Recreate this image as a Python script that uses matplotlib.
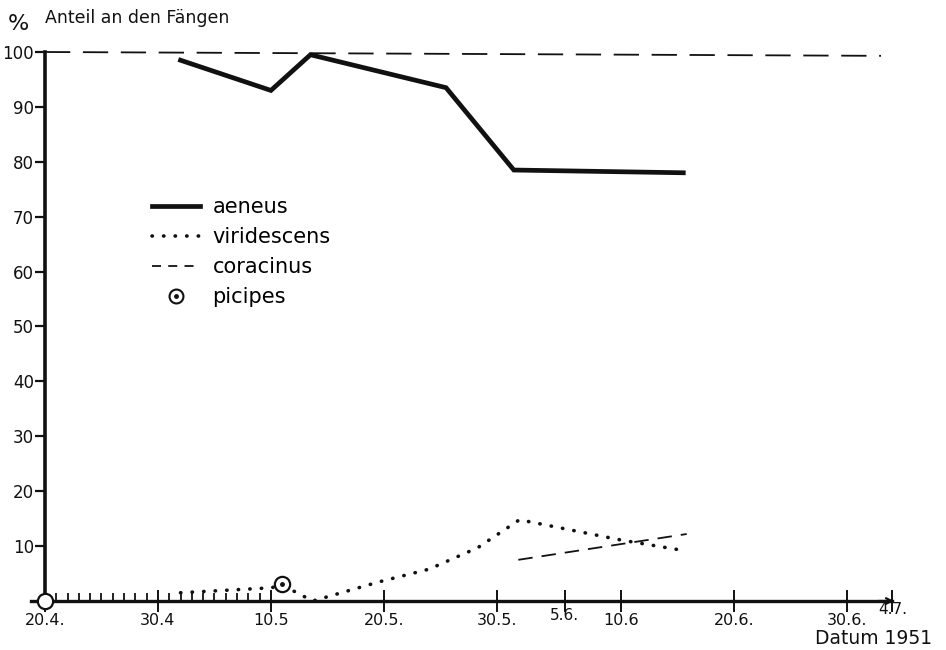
import matplotlib
matplotlib.use("Agg")
import matplotlib.pyplot as plt
from matplotlib.lines import Line2D

# days counted from 20.4.1951
tick_days = [0, 10, 20, 30, 40, 46, 51, 61, 71, 75]
tick_labels = ["20.4.", "30.4", "10.5", "20.5.", "30.5.", "5.6.", "10.6", "20.6.", "30.6.", "4.7."]
minor_days = list(range(1, 20))

aeneus_day = [12, 20, 23.5, 35.5, 41.5, 56.5]
aeneus_pct = [98.5, 93, 99.5, 93.5, 78.5, 78]

viridescens_day = [12, 20, 21, 23.7, 29.6, 34, 38.3, 42, 51, 56.8]
viridescens_pct = [1.5, 2.4, 2.9, 0, 3.5, 5.8, 9.7, 14.8, 11.1, 9.1]

coracinus_top_day = [0, 74]
coracinus_top_pct = [100, 99.3]
coracinus_day = [41.9, 56.8]
coracinus_pct = [7.5, 12.2]

picipes_day = [0, 21]
picipes_pct = [0, 3.1]

yticks = [10, 20, 30, 40, 50, 60, 70, 80, 90, 100]

fig = plt.figure(figsize=(9.46, 6.5), dpi=100)
ax = fig.add_axes([0.0332, 0.0754, 0.916, 0.8615])
ax.set_xlim(-1.2, 75.5)
ax.set_ylim(0, 102)

ink = "#111111"
dots = (0, (0.1, 3.1))

ax.plot(aeneus_day, aeneus_pct, color=ink, lw=3.4, solid_joinstyle="miter", label="aeneus")
ax.plot(viridescens_day, viridescens_pct, color=ink, lw=2.6, linestyle=dots,
        dash_capstyle="round", label="viridescens")
ax.plot(coracinus_top_day, coracinus_top_pct, color=ink, lw=1.3, linestyle=(0, (14, 7)),
        label="coracinus")
ax.plot(coracinus_day, coracinus_pct, color=ink, lw=1.3, linestyle=(0, (8, 5)))
ax.plot(picipes_day, picipes_pct, linestyle="none", marker="o", ms=11, mfc="white",
        mec=ink, mew=1.6, clip_on=False, zorder=5)
ax.plot(picipes_day[1:], picipes_pct[1:], linestyle="none", marker="o", ms=2.5,
        color=ink, zorder=6)

# axes drawn as plain lines
for s in ["top", "right"]:
    ax.spines[s].set_visible(False)
ax.spines["left"].set_position(("data", 0))
ax.spines["left"].set_bounds(0, 100)
ax.spines["left"].set_linewidth(2.6)
ax.spines["bottom"].set_bounds(-1.2, 75)
ax.spines["bottom"].set_linewidth(2.4)
ax.spines["left"].set_color(ink)
ax.spines["bottom"].set_color(ink)
ax.annotate("", xy=(75.4, 0), xytext=(73.5, 0),
            arrowprops=dict(arrowstyle="->", color=ink, lw=1.6), annotation_clip=False)

ax.set_yticks(yticks)
ax.set_yticklabels([str(v) for v in yticks])
ax.tick_params(axis="y", direction="out", length=7, width=1.6, pad=1, labelsize=12, colors=ink)

ax.set_xticks(tick_days)
ax.set_xticklabels(tick_labels)
ax.set_xticks(minor_days, minor=True)
ax.tick_params(axis="x", which="major", direction="inout", length=16, width=1.4,
               pad=1, labelsize=11.5, colors=ink)
ax.tick_params(axis="x", which="minor", direction="in", length=6, width=1.3, colors=ink)
for i, t in enumerate(ax.xaxis.get_major_ticks()):
    if tick_labels[i] == "5.6.":
        t.set_pad(-3)
        t.label1.set_fontsize(11)
    elif tick_labels[i] == "4.7.":
        t.set_pad(-7)
        t.label1.set_fontsize(11)

fig.text(18 / 946, 1 - 24 / 650, "%", fontsize=16, ha="center", va="center", color=ink)
fig.text(45 / 946, 1 - 18 / 650, "Anteil an den Fängen", fontsize=12.5, ha="left",
         va="center", color=ink)
fig.text(932 / 946, 1 - 638 / 650, "Datum 1951", fontsize=13.5, ha="right", va="center",
         color=ink)

handles = [
    Line2D([], [], color=ink, lw=3.4),
    Line2D([], [], color=ink, lw=2.6, linestyle=dots, dash_capstyle="round"),
    Line2D([], [], color=ink, lw=1.3, linestyle=(0, (5, 4))),
    (Line2D([], [], linestyle="none", marker="o", ms=10, mfc="white", mec=ink, mew=1.5),
     Line2D([], [], linestyle="none", marker="o", ms=2.5, color=ink)),
]
ax.legend(handles, ["aeneus", "viridescens", "coracinus", "picipes"],
          loc="upper left", bbox_to_anchor=(152 / 946, 1 - 197 / 650),
          bbox_transform=fig.transFigure, frameon=False, fontsize=15,
          handlelength=2.3, handletextpad=0.6, labelspacing=0.48, borderpad=0,
          borderaxespad=0)

fig.savefig("out.png", dpi=100, facecolor="white")
